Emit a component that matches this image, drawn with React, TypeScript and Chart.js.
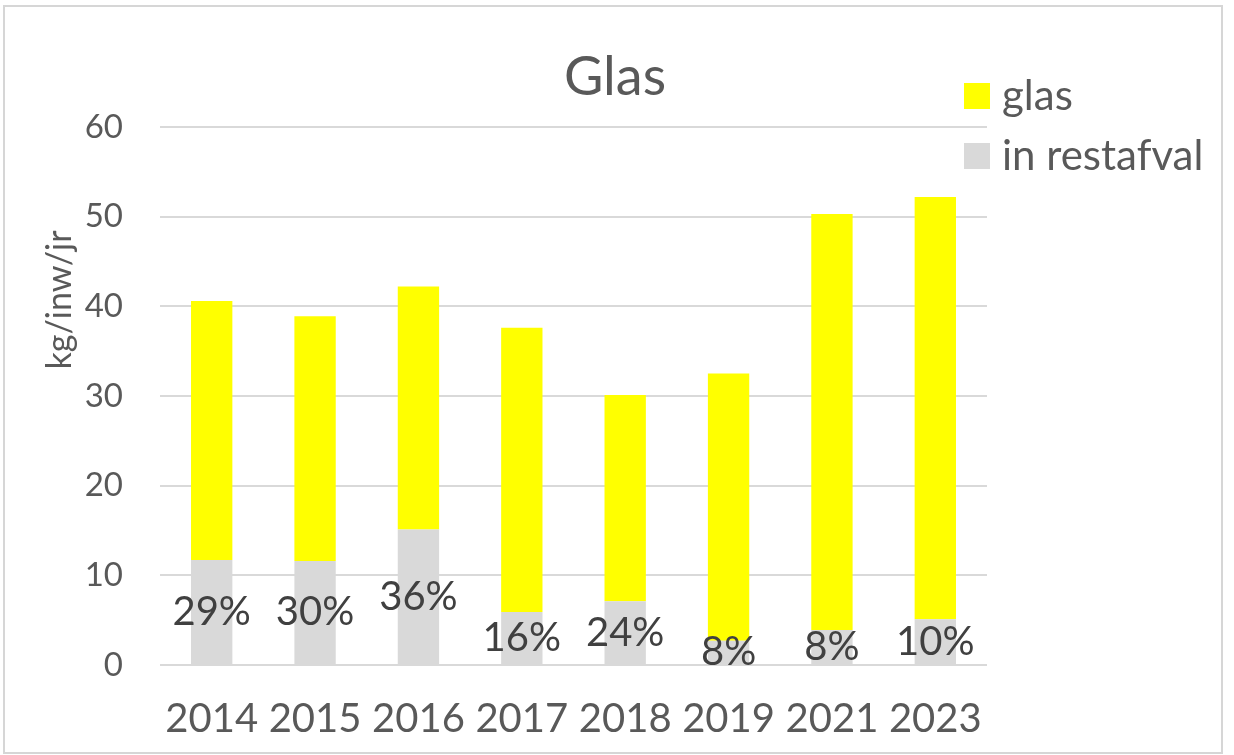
import React, { useEffect, useRef } from "react";
import { Chart, registerables } from "chart.js";

Chart.register(...registerables);

const years = ["2014", "2015", "2016", "2017", "2018", "2019", "2021", "2023"];
const restafval = [11.7, 11.6, 15.1, 5.9, 7.1, 2.7, 3.9, 5.1];
const glas = [28.9, 27.3, 27.1, 31.7, 23.0, 29.8, 46.4, 47.1];
const percentLabels = ["29%", "30%", "36%", "16%", "24%", "8%", "8%", "10%"];
const seriesNames = ["in restafval", "glas"];
const seriesColors = ["#D9D9D9", "#FFFF00"];
const chartTitle = "Glas";
const yAxisTitle = "kg/inw/jr";
const yMin = 0;
const yMax = 60;
const yStep = 10;

const FONT = "Lato, 'Open Sans', sans-serif";
const TEXT = "#595959";

const overlayPlugin = {
  id: "overlay",
  afterDatasetsDraw(chart: any) {
    const ctx = chart.ctx;
    ctx.save();
    // percentage labels in the restafval segment
    const meta = chart.getDatasetMeta(0);
    ctx.font = `40px ${FONT}`;
    ctx.fillStyle = "#404040";
    ctx.textAlign = "center";
    ctx.textBaseline = "middle";
    meta.data.forEach((bar: any, i: number) => {
      const p = bar.getProps(["x", "y", "base"], true);
      ctx.fillText(percentLabels[i], p.x, (p.y + p.base) / 2);
    });
    // title
    ctx.font = `54px ${FONT}`;
    ctx.fillStyle = TEXT;
    ctx.textBaseline = "alphabetic";
    ctx.fillText(chartTitle, 615, 95);
    // y axis title
    ctx.save();
    ctx.translate(71, 300);
    ctx.rotate(-Math.PI / 2);
    ctx.font = `34px ${FONT}`;
    ctx.textAlign = "center";
    ctx.textBaseline = "alphabetic";
    ctx.fillText(yAxisTitle, 0, 0);
    ctx.restore();
    // legend (top series first)
    const order = [1, 0];
    order.forEach((di, row) => {
      const ds = chart.data.datasets[di];
      const top = 83 + row * 60;
      ctx.fillStyle = ds.backgroundColor;
      ctx.fillRect(964, top, 26, 26);
      ctx.fillStyle = TEXT;
      ctx.font = `42px ${FONT}`;
      ctx.textAlign = "left";
      ctx.textBaseline = "middle";
      ctx.fillText(ds.label, 1002, top + 13);
    });
    ctx.restore();
  },
};

export default function App() {
  const ref = useRef<HTMLCanvasElement | null>(null);
  useEffect(() => {
    if (!ref.current) return;
    const chart = new Chart(ref.current, {
      type: "bar",
      data: {
        labels: years,
        datasets: [
          {
            label: seriesNames[0],
            data: restafval,
            backgroundColor: seriesColors[0],
            categoryPercentage: 1,
            barPercentage: 0.4,
          },
          {
            label: seriesNames[1],
            data: glas,
            backgroundColor: seriesColors[1],
            categoryPercentage: 1,
            barPercentage: 0.4,
          },
        ],
      },
      options: {
        responsive: false,
        animation: false,
        layout: { padding: { top: 127, left: 0, right: 247, bottom: 0 } },
        plugins: {
          legend: { display: false },
          title: { display: false },
          tooltip: { enabled: false },
        },
        scales: {
          x: {
            stacked: true,
            grid: { display: false, drawTicks: false },
            border: { display: false },
            ticks: { color: TEXT, font: { family: FONT, size: 40 }, padding: 30, maxRotation: 0, autoSkip: false },
            afterFit: (s: any) => {
              s.height = 90;
            },
          },
          y: {
            stacked: true,
            min: yMin,
            max: yMax,
            grid: { color: "#D9D9D9", lineWidth: 2, drawTicks: false },
            border: { display: false },
            ticks: { stepSize: yStep, color: TEXT, font: { family: FONT, size: 33 }, padding: 37 },
            afterFit: (s: any) => {
              s.width = 160;
            },
          },
        },
      },
      plugins: [overlayPlugin],
    });
    return () => chart.destroy();
  }, []);
  return (
    <div style={{ position: "absolute", left: 0, top: 0, width: 1234, height: 755, background: "#fff" }}>
      <canvas ref={ref} width={1234} height={755} style={{ position: "absolute", left: 0, top: 0 }} />
      <div
        style={{
          position: "absolute",
          left: 3,
          top: 5,
          width: 1220,
          height: 749,
          border: "2px solid #D6D6D6",
          boxSizing: "border-box",
          pointerEvents: "none",
        }}
      />
    </div>
  );
}
